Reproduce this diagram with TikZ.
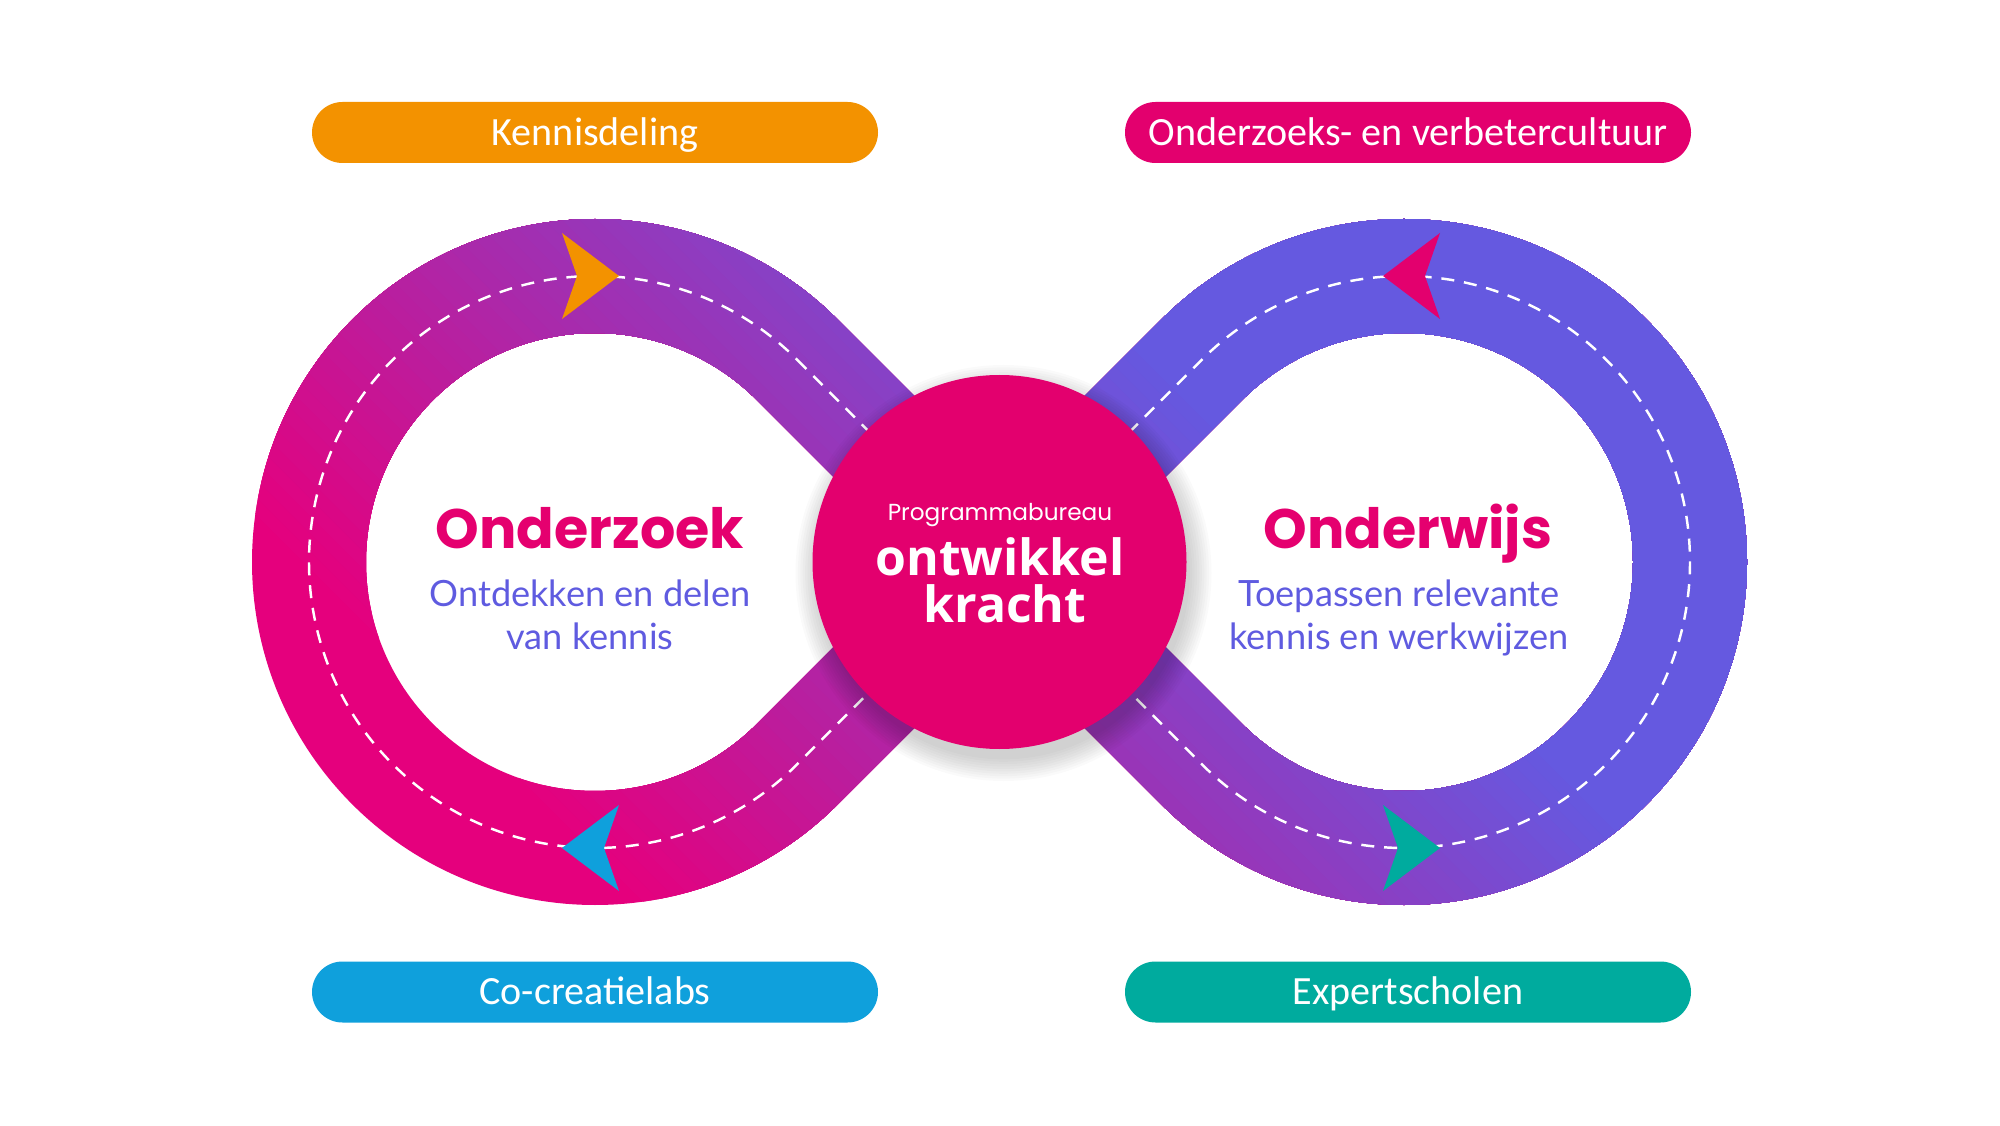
\documentclass[tikz,border=0pt]{standalone}
\usepackage{fontspec}
\usetikzlibrary{calc,positioning}
\newfontfamily\popfont{Poppins}
\newfontfamily\latofont{Lato}
\newfontfamily\carfont{Carlito}
\newfontfamily\osfont{Open Sans}
\definecolor{bandpink}{HTML}{E5007D}
\definecolor{bandblue}{HTML}{6559E0}
\definecolor{hubmag}{HTML}{E3006E}
\definecolor{headmag}{HTML}{E5006F}
\definecolor{subviolet}{HTML}{5F5BE0}
\definecolor{pillorange}{HTML}{F39200}
\definecolor{pillcyan}{HTML}{0FA0DC}
\definecolor{pillteal}{HTML}{00AB9E}
\def\ringin{2.29}
\def\ringout{3.43}
\def\ringmid{2.86}

\begin{document}
\begin{tikzpicture}[
  pill/.style={fill=#1, rounded corners=0.305cm, minimum width=5.66cm, minimum height=0.61cm,
    inner sep=0pt, text=white, text height=7.3pt, text depth=0pt,
    font=\carfont\fontsize{11.4}{13}\selectfont},
  headtext/.style={anchor=base, text=headmag, font=\popfont\bfseries\fontsize{15.8}{18}\selectfont},
  subtext/.style={anchor=base, text=subviolet, align=center, font=\latofont\fontsize{10.3}{12.1}\selectfont},
  flowtip/.style={fill=#1},
  dashline/.style={white, line width=0.7pt, dash pattern=on 3.7pt off 2.8pt}
]
\useasboundingbox (0,0) rectangle (20,11.25);
\coordinate (L) at (5.95,5.63);
\coordinate (R) at (14.04,5.63);
\coordinate (M) at ($(L)!0.5!(R)$);

% infinity band with diagonal colour ramp
\begin{scope}
\clip ($(L)+(45:\ringout)$) arc[start angle=45, end angle=315, radius=\ringout]
      -- ($(L)+(315:\ringin)$) arc[start angle=315, end angle=45, radius=\ringin] -- cycle
      ($(R)+(225:\ringout)$) arc[start angle=225, end angle=495, radius=\ringout]
      -- ($(R)+(135:\ringin)$) arc[start angle=135, end angle=-135, radius=\ringin] -- cycle
      ($(L)+(45:\ringin)$) -- ($(R)+(225:\ringout)$) -- ($(R)+(225:\ringin)$) -- ($(L)+(45:\ringout)$) -- cycle
      ($(L)+(-45:\ringout)$) -- ($(R)+(135:\ringin)$) -- ($(R)+(135:\ringout)$) -- ($(L)+(-45:\ringin)$) -- cycle;
\fill[bandpink] (0,0) rectangle (20,11.25);
\foreach \i in {1,...,60} {
  \pgfmathsetmacro\u{6+\i*0.125}
  \pgfmathsetmacro\p{100-\i*100/60}
  \fill[bandpink!\p!bandblue, rotate=45] (\u,-20) rectangle (25,20);
}
\end{scope}

\draw[dashline] ($(L)+(45:\ringmid)$) -- ($(R)+(225:\ringmid)$)
  arc[start angle=225, end angle=495, radius=\ringmid] -- ($(L)+(-45:\ringmid)$)
  arc[start angle=-45, end angle=-315, radius=\ringmid] -- cycle;

% arrow heads on the band
\fill[flowtip=pillorange, shift={(6.19,8.49)}] (0,0) -- (-0.57,0.43) -- (-0.42,0) -- (-0.57,-0.43) -- cycle;
\fill[flowtip=pillcyan, shift={(5.62,2.77)}, xscale=-1] (0,0) -- (-0.57,0.43) -- (-0.42,0) -- (-0.57,-0.43) -- cycle;
\fill[flowtip=hubmag, shift={(13.83,8.49)}, xscale=-1] (0,0) -- (-0.57,0.43) -- (-0.42,0) -- (-0.57,-0.43) -- cycle;
\fill[flowtip=pillteal, shift={(14.40,2.77)}] (0,0) -- (-0.57,0.43) -- (-0.42,0) -- (-0.57,-0.43) -- cycle;

% hub with soft shadow
\foreach \k in {1,...,10}
  \fill[black, opacity=0.02] ($(M)+(0.04,-0.11)$) circle[radius=1.84+\k*0.024];
\node[circle, fill=hubmag, minimum size=3.74cm, inner sep=0pt] (hub) at (M) {};
\node[anchor=base, text=white, font=\popfont\fontsize{6.6}{8}\selectfont] (bureau) at (10.00,6.05) {Programmabureau};
\node[anchor=base, text=white, font=\osfont\bfseries\fontsize{14.2}{16}\selectfont] (ontwikkel) at (10.00,5.50) {ontwikkel};
\node[anchor=base, text=white, font=\osfont\bfseries\fontsize{14.2}{16}\selectfont] (kracht) at (10.05,5.03) {kracht};

% ring texts
\node[headtext] (onderzoek) at (5.90,5.77) {Onderzoek};
\node[subtext] (onderzoeksub) at (5.90,4.76) {Ontdekken en delen\\van kennis};
\node[headtext] (onderwijs) at (14.08,5.77) {Onderwijs};
\node[subtext] (onderwijssub) at (13.99,4.76) {Toepassen relevante\\kennis en werkwijzen};

% labels
\node[pill=pillorange] (kennis) at (5.95,9.925) {Kennisdeling};
\node[pill=hubmag] (cultuur) at (14.08,9.925) {Onderzoeks- en verbetercultuur};
\node[pill=pillcyan] (labs) at (5.95,1.33) {Co-creatielabs};
\node[pill=pillteal] (scholen) at (14.08,1.33) {Expertscholen};
\end{tikzpicture}
\end{document}
